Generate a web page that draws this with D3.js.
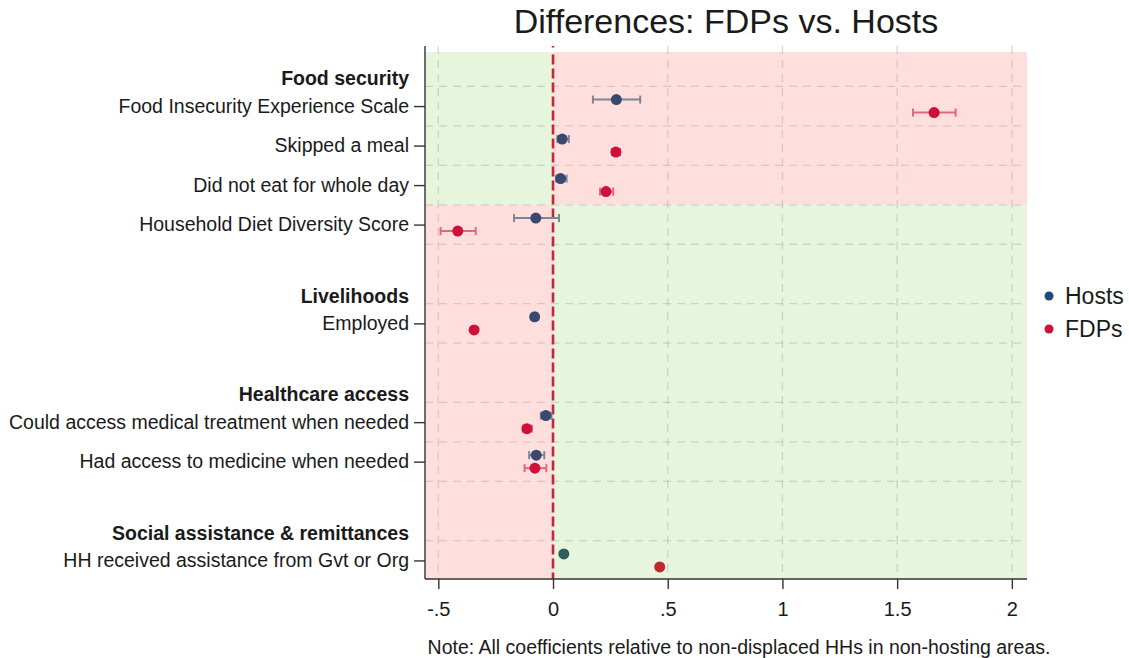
<!DOCTYPE html>
<html>
<head>
<meta charset="utf-8">
<script src="https://cdn.jsdelivr.net/npm/d3@7"></script>
<style>
  body { margin: 0; background: #ffffff; }
  text { font-family: "Liberation Sans", Arial, sans-serif; fill: #1a1a1a; }
</style>
</head>
<body>
<svg id="chart" width="1129" height="658"></svg>
<script>
// ---- Data ---------------------------------------------------------------
const groupHeadings = ["Food security", "Livelihoods", "Healthcare access", "Social assistance & remittances"];
const groupSizes = [4, 1, 2, 1];
const categories = [
  "Food Insecurity Experience Scale",
  "Skipped a meal",
  "Did not eat for whole day",
  "Household Diet Diversity Score",
  "Employed",
  "Could access medical treatment when needed",
  "Had access to medicine when needed",
  "HH received assistance from Gvt or Org"
];
// true where a positive coefficient means a worse outcome
const positiveIsAdverse = [true, true, true, false, false, false, false, false];
const seriesNames = ["Hosts", "FDPs"];
const hostsCoef = [0.276, 0.040, 0.033, -0.075, -0.080, -0.031, -0.073, 0.047];
const hostsLow  = [0.174, 0.019, 0.014, -0.170, -0.094, -0.053, -0.104, 0.036];
const hostsHigh = [0.380, 0.069, 0.059, 0.026, -0.066, -0.007, -0.038, 0.058];
const fdpsCoef  = [1.661, 0.274, 0.231, -0.415, -0.344, -0.114, -0.079, 0.465];
const fdpsLow   = [1.569, 0.257, 0.205, -0.490, -0.357, -0.130, -0.124, 0.452];
const fdpsHigh  = [1.755, 0.292, 0.262, -0.337, -0.331, -0.092, -0.029, 0.478];
const xTicks = [-0.5, 0, 0.5, 1, 1.5, 2];
const noteText = "Note: All coefficients relative to non-displaced HHs in non-hosting areas.";
const titleText = "Differences: FDPs vs. Hosts";

// ---- Layout -------------------------------------------------------------
const svg = d3.select("#chart");
const plot = { left: 425, right: 1027, top: 46, bottom: 579 };
const fontSize = 19.5;
const yDomain = [-0.52, 12.97];

// Row positions: one unit per item; each new group starts 2.5 units after
// the previous group's last item, leaving room for its heading
const rowPos = [];
const headingPos = [];
const gridPos = [];
{
  let last = -1.5;
  groupSizes.forEach(n => {
    const first = last + 2.5;
    headingPos.push(first - 0.7);
    gridPos.push(first - 0.5);
    for (let k = 0; k < n; k++) {
      rowPos.push(first + k);
      gridPos.push(first + k + 0.5);
    }
    last = first + n - 1;
  });
}

const x = d3.scaleLinear().domain([-0.558, 2.066]).range([plot.left, plot.right]);
const y = d3.scaleLinear().domain(yDomain).range([plot.top, plot.bottom]);

const pink = "#ffdede";
const green = "#e6f5dc";

// ---- Shaded regions: red where the direction is adverse, green otherwise
const shadeTop = -0.37;
const split = positiveIsAdverse.findIndex(v => !v);
const boundary = (rowPos[split - 1] + rowPos[split]) / 2;
const blocks = [
  { y0: shadeTop, y1: boundary, adverse: positiveIsAdverse[0] },
  { y0: boundary, y1: yDomain[1], adverse: positiveIsAdverse[split] }
];
const shade = svg.append("g");
blocks.forEach(b => {
  shade.append("rect")
    .attr("x", x(x.domain()[0])).attr("y", y(b.y0))
    .attr("width", x(0) - x(x.domain()[0])).attr("height", y(b.y1) - y(b.y0))
    .attr("fill", b.adverse ? green : pink);
  shade.append("rect")
    .attr("x", x(0)).attr("y", y(b.y0))
    .attr("width", x(x.domain()[1]) - x(0)).attr("height", y(b.y1) - y(b.y0))
    .attr("fill", b.adverse ? pink : green);
});

// ---- Grid lines ---------------------------------------------------------
const grid = svg.append("g").attr("stroke", "rgba(170,170,170,0.45)")
  .attr("stroke-width", 1.3).attr("stroke-dasharray", "8,6");
grid.selectAll("line.v").data(xTicks.filter(t => t !== 0)).join("line")
  .attr("x1", d => x(d)).attr("x2", d => x(d))
  .attr("y1", plot.top).attr("y2", plot.bottom);
grid.selectAll("line.h").data(gridPos.filter(p => p < yDomain[1] - 0.1)).join("line")
  .attr("x1", plot.left).attr("x2", plot.right)
  .attr("y1", d => y(d)).attr("y2", d => y(d));

// ---- Zero reference line ------------------------------------------------
const zeroDash = ["1.5", "7"].concat(d3.range(40).flatMap(() => ["10", "4"])).join(",");
svg.append("line")
  .attr("x1", x(0)).attr("x2", x(0))
  .attr("y1", plot.top).attr("y2", plot.bottom)
  .attr("stroke", "#c0283c").attr("stroke-width", 2.6)
  .attr("stroke-dasharray", zeroDash);

// ---- Coefficients with confidence intervals -----------------------------
const series = [
  { name: seriesNames[0], coef: hostsCoef, lo: hostsLow, hi: hostsHigh, offset: -0.165,
    dot: "#3a4870", bar: "#7d8597", legend: "#1f4a7a" },
  { name: seriesNames[1], coef: fdpsCoef, lo: fdpsLow, hi: fdpsHigh, offset: 0.165,
    dot: "#cf1139", bar: "#e0687c", legend: "#cf1139" }
];
// last row is drawn with slightly different marker tones
const lastRowDot = { Hosts: "#2f5e60", FDPs: "#c0272f" };
const capHalf = 4;

series.forEach(s => {
  const g = svg.append("g");
  const rows = categories.map((c, i) => ({ i, c, v: s.coef[i], lo: s.lo[i], hi: s.hi[i], p: rowPos[i] + s.offset }));
  g.selectAll("line.ci").data(rows).join("line")
    .attr("x1", d => x(d.lo)).attr("x2", d => x(d.hi))
    .attr("y1", d => y(d.p)).attr("y2", d => y(d.p))
    .attr("stroke", s.bar).attr("stroke-width", 2);
  g.selectAll("line.caplo").data(rows).join("line")
    .attr("x1", d => x(d.lo)).attr("x2", d => x(d.lo))
    .attr("y1", d => y(d.p) - capHalf).attr("y2", d => y(d.p) + capHalf)
    .attr("stroke", s.bar).attr("stroke-width", 2);
  g.selectAll("line.caphi").data(rows).join("line")
    .attr("x1", d => x(d.hi)).attr("x2", d => x(d.hi))
    .attr("y1", d => y(d.p) - capHalf).attr("y2", d => y(d.p) + capHalf)
    .attr("stroke", s.bar).attr("stroke-width", 2);
  g.selectAll("circle").data(rows).join("circle")
    .attr("cx", d => x(d.v)).attr("cy", d => y(d.p)).attr("r", 5.5)
    .attr("fill", d => d.i === categories.length - 1 ? lastRowDot[s.name] : s.dot);
});

// ---- Axes ---------------------------------------------------------------
const fmt = d => d === 0 ? "0" : String(d).replace(/^(-?)0\./, "$1.");
const xAxis = svg.append("g").attr("transform", `translate(0,${plot.bottom})`)
  .call(d3.axisBottom(x).tickValues(xTicks).tickFormat(fmt).tickSize(10).tickPadding(13).tickSizeOuter(0));
xAxis.select(".domain").attr("stroke", "#333").attr("stroke-width", 1.4)
  .attr("d", `M${plot.left},0H${plot.right}`);
xAxis.selectAll(".tick line").attr("stroke", "#333").attr("stroke-width", 1.4);
xAxis.selectAll(".tick text").attr("font-size", 20).attr("fill", "#1a1a1a")
  .attr("font-family", "Liberation Sans, Arial, sans-serif");

const yAxis = svg.append("g").attr("transform", `translate(${plot.left},0)`)
  .call(d3.axisLeft(y).tickValues(rowPos).tickFormat((d, i) => categories[i]).tickSize(11).tickPadding(5).tickSizeOuter(0));
yAxis.select(".domain").attr("stroke", "#333").attr("stroke-width", 1.4)
  .attr("d", `M0,${plot.top}V${plot.bottom}`);
yAxis.selectAll(".tick line").attr("stroke", "#333").attr("stroke-width", 1.4);
yAxis.selectAll(".tick text").attr("font-size", fontSize).attr("fill", "#1a1a1a")
  .attr("font-family", "Liberation Sans, Arial, sans-serif");

// Group headings
svg.append("g").selectAll("text").data(groupHeadings).join("text")
  .attr("x", plot.left - 16).attr("y", (d, i) => y(headingPos[i]))
  .attr("dy", "0.35em").attr("text-anchor", "end")
  .attr("font-size", fontSize).attr("font-weight", "bold")
  .text(d => d);

// ---- Title, note, legend ------------------------------------------------
svg.append("text").attr("x", (plot.left + plot.right) / 2).attr("y", 33)
  .attr("text-anchor", "middle").attr("font-size", 34).text(titleText);

svg.append("text").attr("x", 739).attr("y", 654)
  .attr("text-anchor", "middle").attr("font-size", fontSize).text(noteText);

const legend = svg.append("g").attr("transform", "translate(1049,296)");
series.forEach((s, i) => {
  const row = legend.append("g").attr("transform", `translate(0,${i * 33})`);
  row.append("circle").attr("r", 4.5).attr("fill", s.legend);
  row.append("text").attr("x", 16).attr("dy", "0.36em").attr("font-size", 23).text(s.name);
});
</script>
</body>
</html>
